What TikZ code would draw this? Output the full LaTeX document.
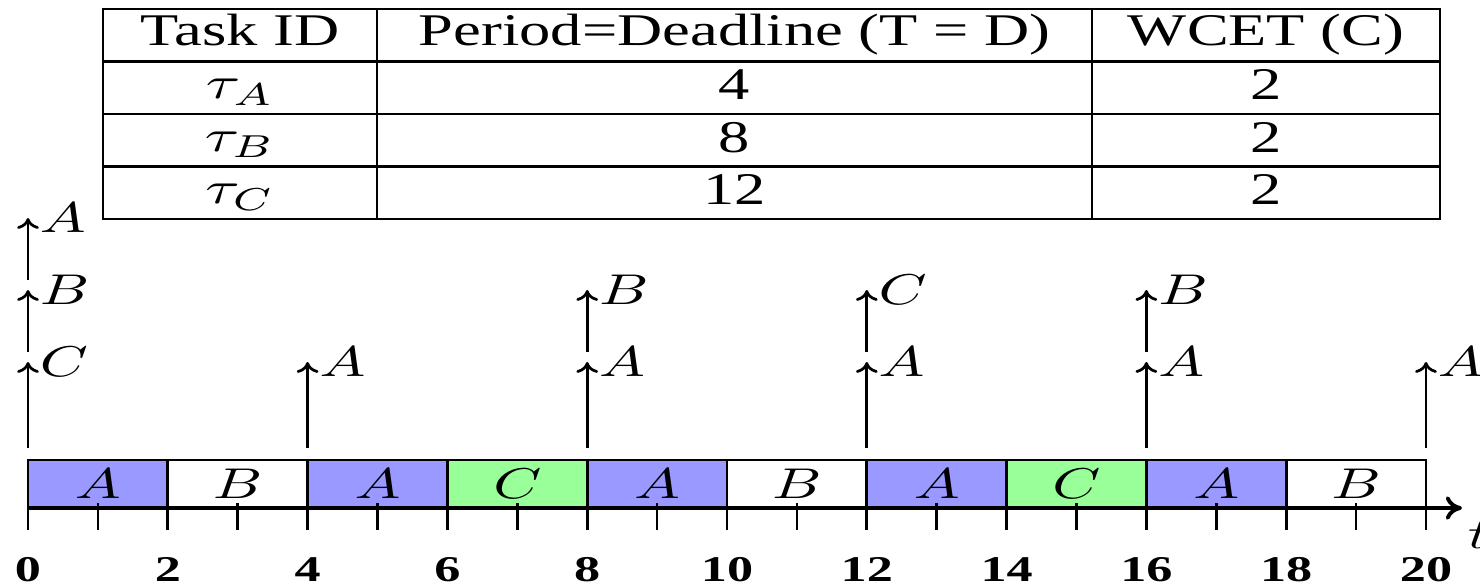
\documentclass[tikz,border=0pt]{standalone}
\usepackage{fontspec}
\setmainfont{Liberation Serif}
\usepackage{graphicx}
\usetikzlibrary{arrows.meta}
\newcommand{\hstr}[1]{\scalebox{1.38}[1]{#1}}
\newcommand{\mlab}[1]{\scalebox{1.35}[0.95]{$#1$}}
\newcommand{\numlab}[1]{\scalebox{1.44}[1]{\footnotesize$\mathbf{#1}$}}
\definecolor{colA}{HTML}{9999FF}
\definecolor{colB}{HTML}{FFFFFF}
\definecolor{colC}{HTML}{99FF99}
\begin{document}
\begin{tikzpicture}[x=0.22075pt, y=-0.22075pt,
  tblline/.style={line width=0.6pt, draw=black},
  ttext/.style={anchor=base, inner sep=0pt, font=\fontsize{10}{12}\selectfont},
  segbox/.style={draw=black, line width=0.6pt},
  seglabel/.style={anchor=base, inner sep=0pt, font=\fontsize{10}{12}\selectfont},
  axisline/.style={line width=0.85pt, -{To[length=3.6pt,width=5.2pt]}},
  tickline/.style={line width=0.6pt},
  numlabel/.style={anchor=base, inner sep=0pt},
  relarrow/.style={line width=0.6pt, -{To[length=2.4pt,width=4.8pt]}},
  rellabel/.style={anchor=base west, inner sep=0pt, font=\fontsize{10}{12}\selectfont}]
\useasboundingbox (0,0) rectangle (1480,587);

% ---- table ----
\draw[tblline] (103,9) rectangle (1440,219);
\foreach \yy in {61.5,114,166.5} \draw[tblline] (103,\yy) -- (1440,\yy);
\foreach \xx in {377,1092} \draw[tblline] (\xx,9) -- (\xx,219);
\node[ttext] (h1) at (240,45.7) {\hstr{Task ID}};
\node[ttext] (h2) at (734.5,45.7) {\hstr{Period=Deadline (T = D)}};
\node[ttext] (h3) at (1266,45.7) {\hstr{WCET (C)}};
\node[ttext] (ta) at (240,98.5) {\hstr{$\tau_A$}};
\node[ttext] (pa) at (734.5,99.5) {\hstr{4}};
\node[ttext] (ca) at (1266,99.5) {\hstr{2}};
\node[ttext] (tb) at (240,151) {\hstr{$\tau_B$}};
\node[ttext] (pb) at (734.5,152) {\hstr{8}};
\node[ttext] (cb) at (1266,152) {\hstr{2}};
\node[ttext] (tc) at (240,203.5) {\hstr{$\tau_C$}};
\node[ttext] (pc) at (734.5,204.5) {\hstr{12}};
\node[ttext] (cc) at (1266,204.5) {\hstr{2}};

% ---- schedule boxes ----
\foreach \i/\k in {0/A,1/B,2/A,3/C,4/A,5/B,6/A,7/C,8/A,9/B} {
  \pgfmathsetmacro\xa{28+139.8*\i}
  \pgfmathsetmacro\xb{28+139.8*(\i+1)}
  \draw[segbox, fill=col\k] (\xa,460) rectangle (\xb,508);
  \node[seglabel] (seg\i) at ({(\xa+\xb)/2},498) {\mlab{\k}};
}

% ---- ticks and numbers ----
\foreach \t in {0,...,20} {
  \pgfmathsetmacro\xt{28+69.9*\t}
  \ifodd\t
    \draw[tickline] (\xt,503) -- (\xt,530);
  \else
    \draw[tickline] (\xt,508) -- (\xt,530);
    \node[numlabel] (n\t) at (\xt,581.5) {\numlab{\t}};
  \fi
}

% ---- axis ----
\coordinate (ax0) at (28,508);
\coordinate (ax1) at (1462,508);
\draw[axisline] (ax0) -- (ax1);
\node[anchor=base west, inner sep=0pt, font=\fontsize{10}{12}\selectfont] (tlab) at (1467,548) {\mlab{t}};

% ---- release arrows ----
\foreach \t/\lab/\lvl in {0/C/0,0/B/1,0/A/2,4/A/0,8/A/0,8/B/1,12/A/0,12/C/1,16/A/0,16/B/1,20/A/0} {
  \pgfmathsetmacro\xt{28+69.9*\t}
  \pgfmathsetmacro\tip{362-72*\lvl}
  \pgfmathsetmacro\bot{\lvl==0 ? 448 : \tip+62}
  \coordinate (rb\t\lab) at (\xt,\bot);
  \coordinate (rt\t\lab) at (\xt,\tip);
  \draw[relarrow] (rb\t\lab) -- (rt\t\lab);
  \node[rellabel] (rl\t\lab) at (\xt+11,\tip+14.7) {\mlab{\lab}};
}
\end{tikzpicture}
\end{document}
